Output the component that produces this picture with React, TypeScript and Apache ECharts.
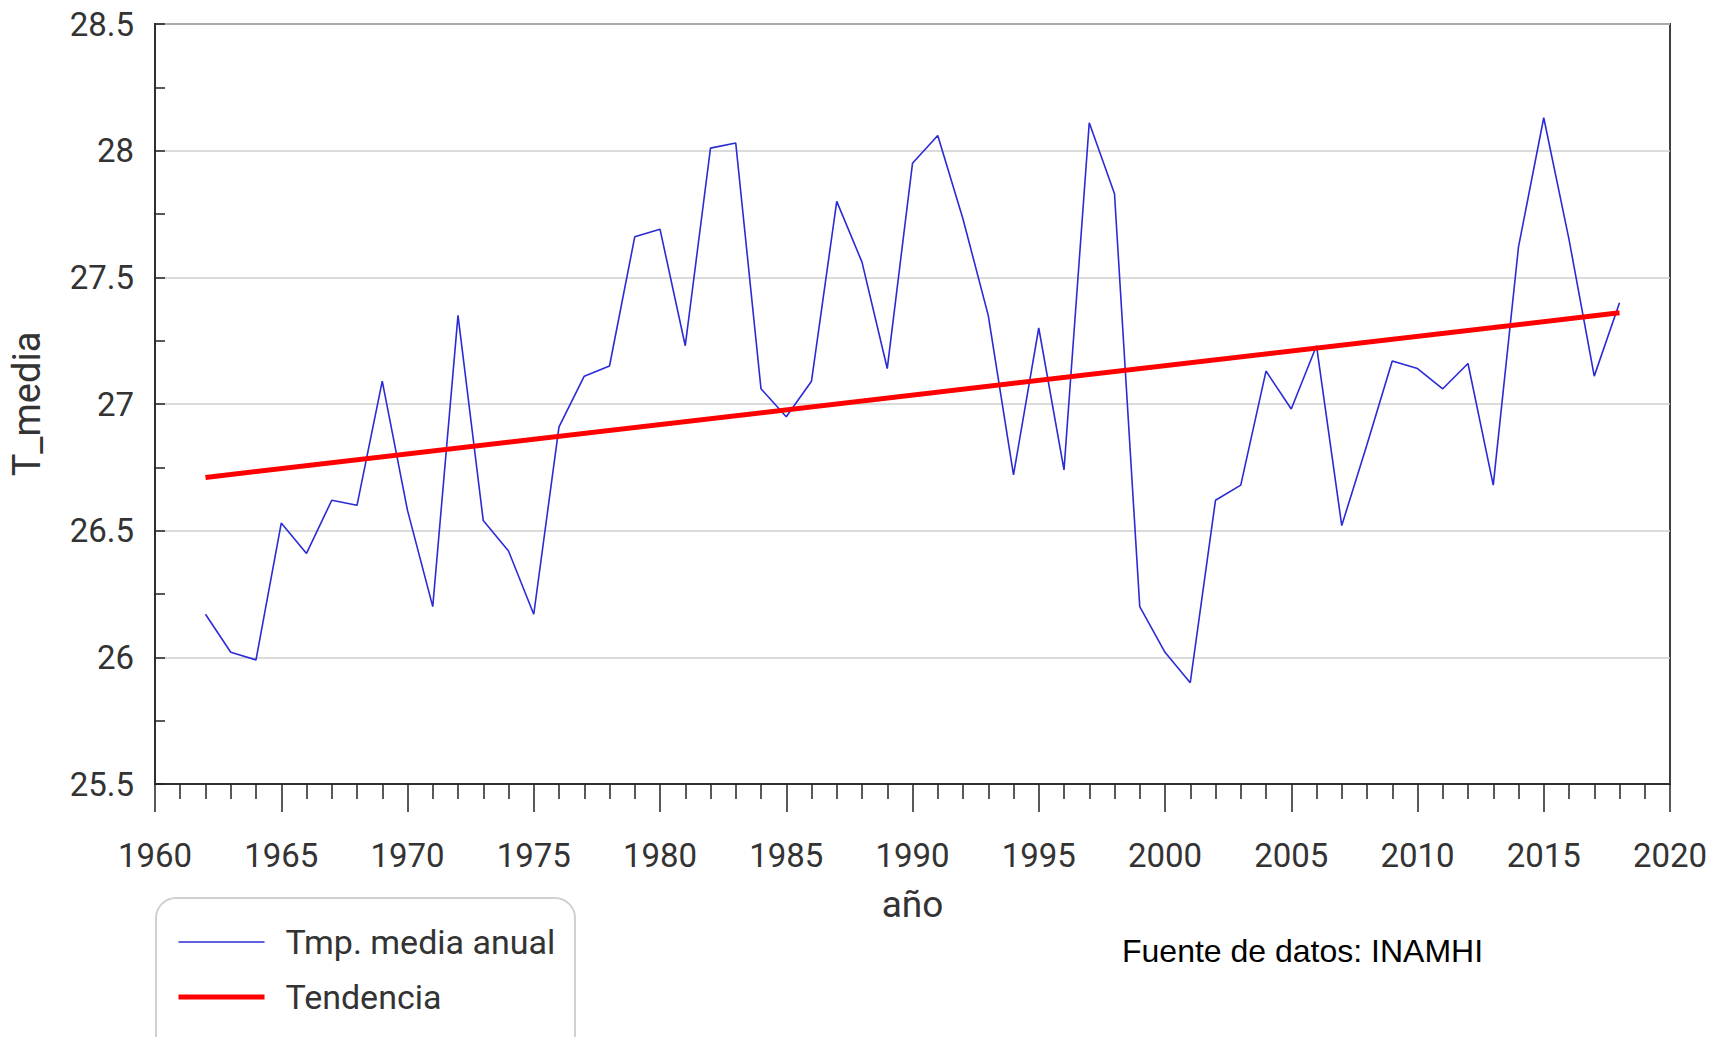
import React, { useEffect, useRef } from "react";
import * as echarts from "echarts";

const years = [
  1962, 1963, 1964, 1965, 1966, 1967, 1968, 1969, 1970, 1971,
  1972, 1973, 1974, 1975, 1976, 1977, 1978, 1979, 1980, 1981,
  1982, 1983, 1984, 1985, 1986, 1987, 1988, 1989, 1990, 1991,
  1992, 1993, 1994, 1995, 1996, 1997, 1998, 1999, 2000, 2001,
  2002, 2003, 2004, 2005, 2006, 2007, 2008, 2009, 2010, 2011,
  2012, 2013, 2014, 2015, 2016, 2017, 2018,
];

const tempMedia = [
  26.17, 26.02, 25.99, 26.53, 26.41, 26.62, 26.6, 27.09, 26.58, 26.2,
  27.35, 26.54, 26.42, 26.17, 26.91, 27.11, 27.15, 27.66, 27.69, 27.23,
  28.01, 28.03, 27.06, 26.95, 27.09, 27.8, 27.56, 27.14, 27.95, 28.06,
  27.73, 27.35, 26.72, 27.3, 26.74, 28.11, 27.83, 26.2, 26.02, 25.9,
  26.62, 26.68, 27.13, 26.98, 27.23, 26.52, 26.84, 27.17, 27.14, 27.06,
  27.16, 26.68, 27.62, 28.13, 27.65, 27.11, 27.4,
];

const trendYears = [1962, 2018];
const trendValues = [26.71, 27.36];

const seriesNames = ["Tmp. media anual", "Tendencia"];
const yAxisTitle = "T_media";
const xAxisTitle = "año";
const sourceNote = "Fuente de datos: INAMHI";

const FONT = "Roboto";
const BLUE = "#2b2bd6";
const RED = "#ff0000";

export default function App() {
  const ref = useRef<HTMLDivElement>(null);

  useEffect(() => {
    if (!ref.current) return;
    const chart = echarts.init(ref.current, null, { renderer: "svg" });
    const option: any = {
      animation: false,
      backgroundColor: "#ffffff",
      textStyle: { fontFamily: FONT },
      grid: {
        left: 151,
        right: 42,
        top: 24,
        bottom: 253,
        show: true,
        borderColor: "#404040",
        borderWidth: 2,
        backgroundColor: "transparent",
      },
      xAxis: {
        type: "value",
        min: 1960,
        max: 2020,
        interval: 5,
        name: xAxisTitle,
        nameLocation: "middle",
        nameGap: 102,
        nameTextStyle: { fontSize: 37, color: "#333", fontFamily: FONT },
        axisLine: { show: true, lineStyle: { color: "#303030", width: 2 } },
        axisTick: { show: true, length: 28, lineStyle: { color: "#222", width: 1.5 } },
        minorTick: { show: true, splitNumber: 5, length: 15, lineStyle: { color: "#222", width: 1.5 } },
        axisLabel: {
          margin: 55,
          fontSize: 33,
          color: "#333",
          fontFamily: FONT,
          formatter: (v: number) => String(v),
        },
        splitLine: { show: false },
        minorSplitLine: { show: false },
      },
      yAxis: {
        type: "value",
        min: 25.5,
        max: 28.5,
        interval: 0.5,
        name: yAxisTitle,
        nameLocation: "middle",
        nameGap: 109,
        nameTextStyle: { fontSize: 38, color: "#333", fontFamily: FONT },
        axisLine: { show: true, lineStyle: { color: "#303030", width: 2 } },
        axisTick: { show: true, inside: true, length: 10, lineStyle: { color: "#222", width: 1.5 } },
        minorTick: { show: true, splitNumber: 2, length: 10, lineStyle: { color: "#222", width: 1.5 } },
        axisLabel: {
          margin: 21,
          fontSize: 33,
          color: "#333",
          fontFamily: FONT,
          formatter: (v: number) => String(Number(v.toFixed(1))),
        },
        splitLine: { show: true, lineStyle: { color: "#cfcfcf", width: 1.5 } },
      },
      legend: {
        orient: "vertical",
        left: 176,
        top: 925,
        padding: 0,
        itemWidth: 86,
        itemHeight: 34,
        itemGap: 21,
        itemStyle: { opacity: 0 },
        textStyle: { fontSize: 34, color: "#333", fontFamily: FONT, padding: [0, 0, 0, 16] },
        data: [
          { name: seriesNames[0], lineStyle: { width: 1.6, color: BLUE } },
          { name: seriesNames[1], lineStyle: { width: 5, color: RED } },
        ],
      },
      graphic: [
        {
          type: "rect",
          shape: { x: 156, y: 898, width: 419, height: 220, r: 20 },
          style: { fill: "transparent", stroke: "#d0d0d0", lineWidth: 2 },
          z: 1,
        },
        {
          type: "text",
          x: 1122,
          y: 951,
          style: {
            text: sourceNote,
            font: '32px "Liberation Sans", Arial, sans-serif',
            fill: "#000",
            textAlign: "left",
            textVerticalAlign: "middle",
          },
        },
      ],
      series: [
        {
          name: seriesNames[0],
          type: "line",
          data: years.map((y, i) => [y, tempMedia[i]]),
          symbol: "none",
          showSymbol: false,
          lineStyle: { color: BLUE, width: 1.6 },
          itemStyle: { color: BLUE },
          z: 2,
        },
        {
          name: seriesNames[1],
          type: "line",
          data: trendYears.map((y, i) => [y, trendValues[i]]),
          symbol: "none",
          showSymbol: false,
          lineStyle: { color: RED, width: 5 },
          itemStyle: { color: RED },
          z: 3,
        },
      ],
    };
    chart.setOption(option);
    return () => chart.dispose();
  }, []);

  return (
    <div
      ref={ref}
      style={{ position: "fixed", left: 0, top: 0, width: 1712, height: 1037 }}
    />
  );
}
